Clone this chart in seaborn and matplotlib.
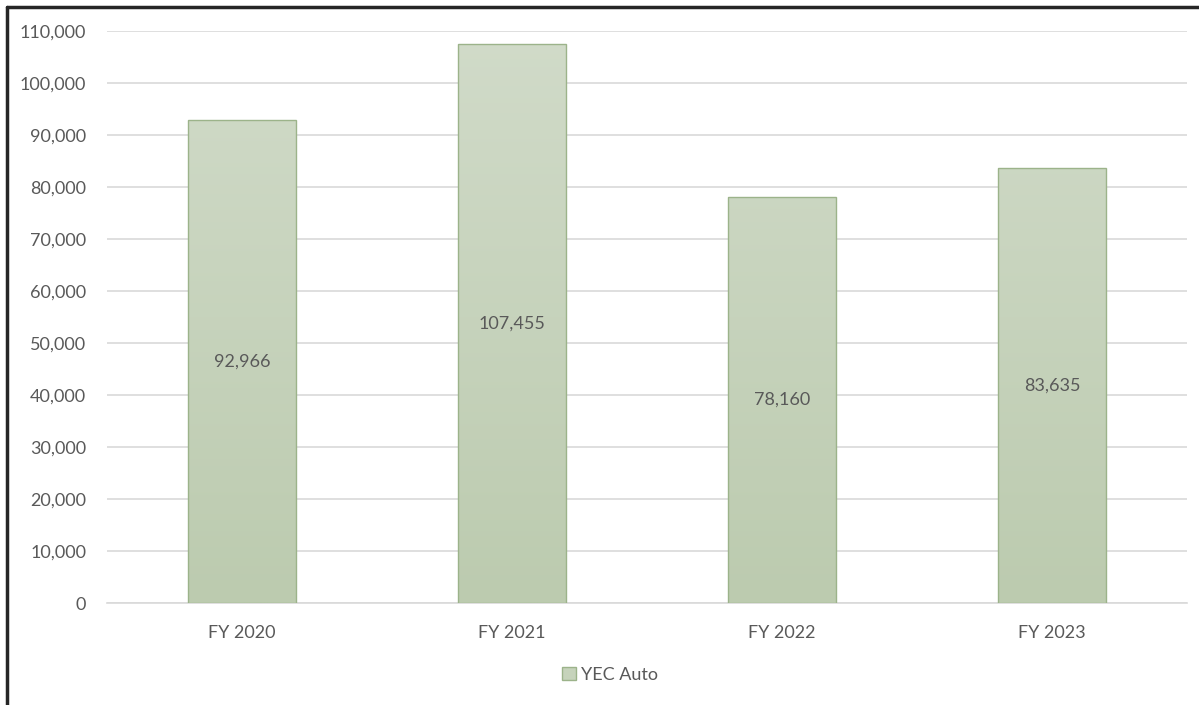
import numpy as np
import matplotlib
matplotlib.use("Agg")
import matplotlib.pyplot as plt
from matplotlib.lines import Line2D
from matplotlib.patches import Patch
from matplotlib.colors import LinearSegmentedColormap
import seaborn as sns
import pandas as pd

categories = ["FY 2020", "FY 2021", "FY 2022", "FY 2023"]
values = [92966, 107455, 78160, 83635]
series_name = "YEC Auto"
y_ticks = list(range(0, 110001, 10000))

sns.set_theme(style="white")
plt.rcParams["font.family"] = ["Lato", "DejaVu Sans"]

W, H, DPI = 1199, 705, 100
fig = plt.figure(figsize=(W / DPI, H / DPI), dpi=DPI)
ax = fig.add_axes([107 / W, 1 - 603 / H, (1187 - 107) / W, (603 - 31) / H])

df = pd.DataFrame({"cat": categories, "val": values})
sns.barplot(data=df, x="cat", y="val", ax=ax, width=0.4,
            color="#c6d3bb", edgecolor="#9cb38a", linewidth=1.0,
            saturation=1, zorder=3)

ax.set_ylim(0, 110000)
ax.set_xlim(-0.5, len(categories) - 0.5)
ax.set_yticks(y_ticks)
ax.set_yticklabels([f"{t:,}" for t in y_ticks])
ax.set_xlabel("")
ax.set_ylabel("")
ax.grid(axis="y", color="#d9d9d9", linewidth=1.2, zorder=0)
for s in ["top", "right", "left"]:
    ax.spines[s].set_visible(False)
ax.spines["bottom"].set_color("#d9d9d9")
ax.spines["bottom"].set_linewidth(1.2)
ax.tick_params(axis="both", length=0, labelsize=13, labelcolor="#595959")
ax.tick_params(axis="y", pad=15)
ax.tick_params(axis="x", pad=16)

# vertical gradient inside each bar, lighter toward the top
grad = np.linspace(0, 1, 256).reshape(-1, 1)
cmap = LinearSegmentedColormap.from_list("g", ["#bccbaf", "#d1dbc9"])
for bar in ax.patches:
    x0, w = bar.get_x(), bar.get_width()
    im = ax.imshow(grad, extent=[x0, x0 + w, 0, 110000], origin="lower",
                   cmap=cmap, aspect="auto", zorder=3.5, vmin=0, vmax=1)
    im.set_clip_path(bar)
    bar.set_facecolor("none")
    bar.set_zorder(4)
ax.set_xlim(-0.5, len(categories) - 0.5)
ax.set_ylim(0, 110000)

for i, v in enumerate(values):
    ax.text(i, v / 2, f"{v:,}", ha="center", va="center",
            fontsize=13, color="#595959", zorder=5)

handles = [Patch(facecolor="#c6d3bb", edgecolor="#9cb38a", label=series_name)]
fig.legend(handles=handles, loc="center", bbox_to_anchor=(610 / W, 1 - 675 / H),
           frameon=False, fontsize=13, handlelength=0.75, handleheight=0.75,
           handletextpad=0.3, labelcolor="#595959")

# outer frame, top and left edges
fig.add_artist(Line2D([7 / W, 1], [1 - 7 / H, 1 - 7 / H], color="#262626",
                      linewidth=2.5, transform=fig.transFigure))
fig.add_artist(Line2D([7 / W, 7 / W], [1 - 7 / H, 0], color="#262626",
                      linewidth=2.5, transform=fig.transFigure))

fig.savefig("out.png", dpi=DPI, facecolor="white")
